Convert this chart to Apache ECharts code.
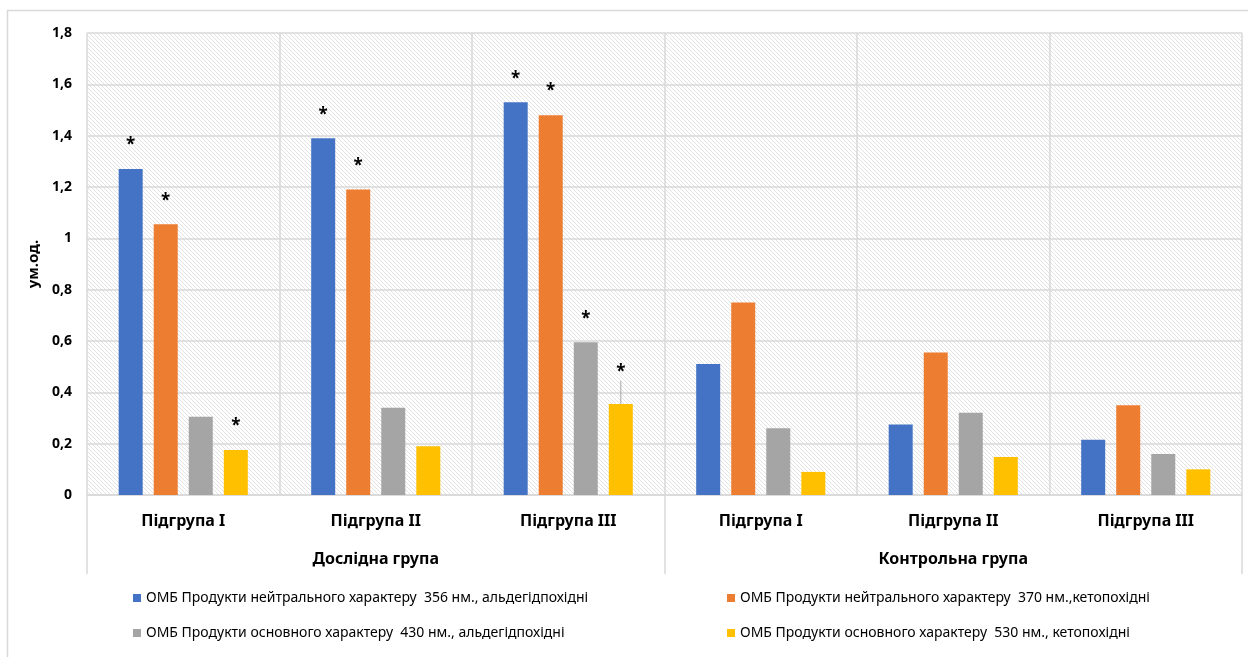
<!DOCTYPE html>
<html>
<head>
<meta charset="utf-8">
<script src="https://cdn.jsdelivr.net/npm/echarts@6/dist/echarts.min.js"></script>
<style>
  html, body { margin: 0; padding: 0; background: #fff; }
  #chart { width: 1248px; height: 657px; }
</style>
</head>
<body>
<div id="chart"></div>
<script>
// підгрупи і групи
const subgroups = ['Підгрупа I', 'Підгрупа II', 'Підгрупа III', 'Підгрупа I', 'Підгрупа II', 'Підгрупа III']
const groups = ['Дослідна група', 'Контрольна група']
const yTicks = [0, 0.2, 0.4, 0.6, 0.8, 1, 1.2, 1.4, 1.6, 1.8]

const seriesNames = [
  'ОМБ Продукти нейтрального характеру  356 нм., альдегідпохідні',
  'ОМБ Продукти нейтрального характеру  370 нм.,кетопохідні',
  'ОМБ Продукти основного характеру  430 нм., альдегідпохідні',
  'ОМБ Продукти основного характеру  530 нм., кетопохідні'
]
const colors = ['#4472C4', '#ED7D31', '#A5A5A5', '#FFC000']

const neutral356 = [1.27, 1.39, 1.53, 0.51, 0.275, 0.215]
const neutral370 = [1.055, 1.19, 1.48, 0.75, 0.555, 0.35]
const basic430 = [0.305, 0.34, 0.595, 0.26, 0.32, 0.16]
const basic530 = [0.175, 0.19, 0.355, 0.09, 0.148, 0.1]

// де стоїть зірочка (достовірна різниця)
const star356 = [1, 1, 1, 0, 0, 0]
const star370 = [1, 1, 1, 0, 0, 0]
const star430 = [0, 0, 1, 0, 0, 0]
const star530 = [1, 0, 1, 0, 0, 0]

const values = [neutral356, neutral370, basic430, basic530]
const stars = [star356, star370, star430, star530]

const font = '"Noto Sans", sans-serif'

// штрихований фон
const pat = document.createElement('canvas')
pat.width = 4
pat.height = 4
const pctx = pat.getContext('2d')
pctx.fillStyle = '#ffffff'
pctx.fillRect(0, 0, 4, 4)
pctx.fillStyle = '#e2e2e2'
for (let i = 0; i < 4; i++) pctx.fillRect(i, i, 1, 1)

const series = values.map((vals, s) => ({
  name: seriesNames[s],
  type: 'bar',
  xAxisIndex: 0,
  barWidth: 24,
  barGap: '46%',
  itemStyle: { color: colors[s] },
  data: vals.map((v, i) => ({
    value: v,
    label: {
      show: !!stars[s][i],
      position: 'top',
      distance: 15,
      formatter: '*',
      color: '#000',
      fontSize: 17,
      fontWeight: 'bold',
      fontFamily: font
    },
    // виноска тільки для жовтого стовпчика підгрупи III
    labelLine: { show: s === 3 && i === 2, lineStyle: { color: '#a5a5a5', width: 1 } }
  })),
  labelLayout: s === 3 ? function (p) { return p.dataIndex === 2 ? { dy: -8 } : {} } : undefined
}))

echarts.init(document.getElementById('chart')).setOption({
  animation: false,
  textStyle: { fontFamily: font },
  graphic: [
    {
      type: 'rect',
      shape: { x: 7.5, y: 10.5, width: 1300, height: 700 },
      style: { fill: 'none', stroke: '#d9d9d9', lineWidth: 1.5 },
      silent: true
    }
  ],
  grid: {
    left: 87,
    right: 6,
    top: 33,
    bottom: 162,
    show: true,
    borderWidth: 0,
    backgroundColor: { image: pat, repeat: 'repeat' }
  },
  legend: [
    {
      left: 128,
      top: 586,
      orient: 'vertical',
      itemWidth: 8,
      itemHeight: 8,
      itemGap: 21,
      icon: 'rect',
      textStyle: { fontSize: 14, color: '#000', fontFamily: font },
      data: [seriesNames[0], seriesNames[2]]
    },
    {
      left: 722,
      top: 586,
      orient: 'vertical',
      itemWidth: 8,
      itemHeight: 8,
      itemGap: 21,
      icon: 'rect',
      textStyle: { fontSize: 14, color: '#000', fontFamily: font },
      data: [seriesNames[1], seriesNames[3]]
    }
  ],
  xAxis: [
    {
      type: 'category',
      data: subgroups,
      position: 'bottom',
      axisLine: { show: true, lineStyle: { color: '#d9d9d9', width: 1.5 } },
      axisTick: { show: false },
      splitLine: { show: true, interval: 0, lineStyle: { color: '#d9d9d9', width: 1.5 } },
      axisLabel: { interval: 0, margin: 18, color: '#000', fontSize: 16, fontWeight: 'bold', fontFamily: font }
    },
    {
      type: 'category',
      data: groups,
      position: 'bottom',
      axisLine: { show: false },
      axisTick: { show: true, length: 79, lineStyle: { color: '#d9d9d9', width: 1.5 } },
      splitLine: { show: false },
      axisLabel: { interval: 0, margin: 56, color: '#000', fontSize: 16, fontWeight: 'bold', fontFamily: font }
    }
  ],
  yAxis: {
    type: 'value',
    min: yTicks[0],
    max: yTicks[yTicks.length - 1],
    interval: 0.2,
    name: 'ум.од.',
    nameLocation: 'middle',
    nameGap: 42,
    nameTextStyle: { color: '#000', fontSize: 15, fontWeight: 'bold', fontFamily: font },
    axisLine: { show: false },
    axisTick: { show: false },
    splitLine: { lineStyle: { color: '#d9d9d9', width: 1.5 } },
    axisLabel: {
      margin: 15,
      color: '#000',
      fontSize: 14,
      fontWeight: 'bold',
      fontFamily: font,
      formatter: function (v) { return String(parseFloat(v.toFixed(1))).replace('.', ',') }
    }
  },
  series: series
})
</script>
</body>
</html>
